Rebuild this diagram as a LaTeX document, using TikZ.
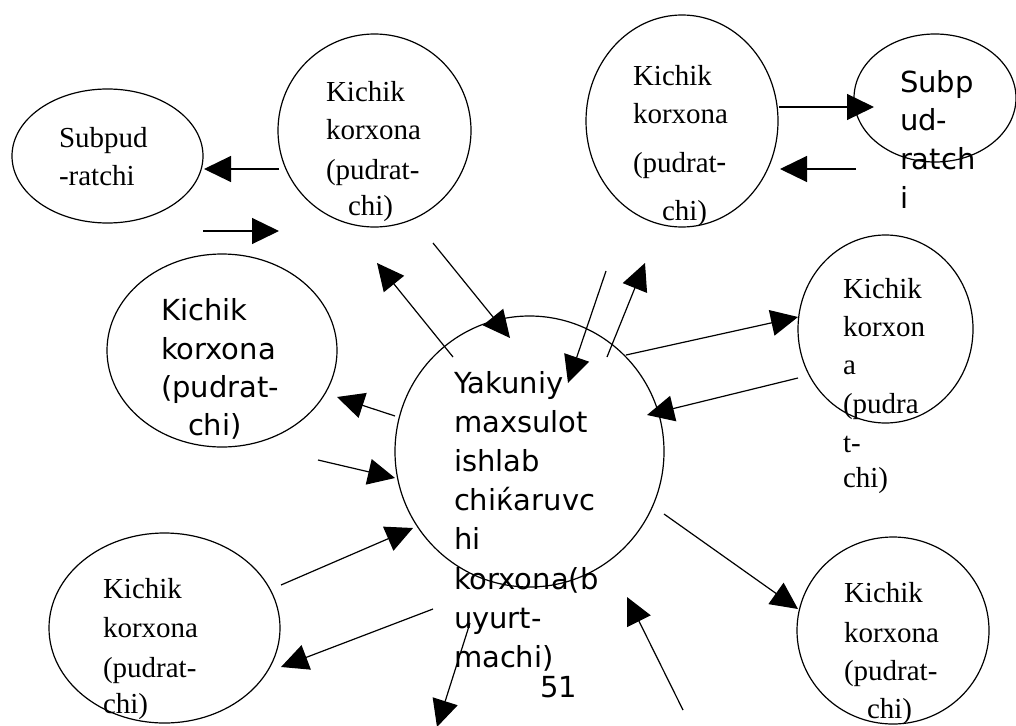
\documentclass[tikz,border=0pt]{standalone}
\usepackage{fontspec}
\setmainfont{Liberation Serif}
\newfontfamily\djsans{DejaVu Sans}
\usetikzlibrary{arrows.meta,shapes.geometric}
\tikzset{
  oval/.style={draw, line width=1.2pt, ellipse, inner sep=0pt, outer sep=0pt},
  ser/.style={anchor=base west, inner sep=0pt, outer sep=0pt, font=\fontsize{29}{35}\selectfont},
  san/.style={anchor=base west, inner sep=0pt, outer sep=0pt, font=\djsans\fontsize{29}{35}\selectfont},
  arr/.style={line width=1.2pt, -{Triangle[length=27pt,width=26pt]}},
}
\begin{document}
\begin{tikzpicture}[x=1pt,y=-1pt]
\clip (0,0) rectangle (1016,725);
\fill[white] (0,0) rectangle (1016,725);

% ellipses
\node[oval, minimum width=191pt, minimum height=134pt] (e1) at (107.5,156) {};
\node[oval, minimum width=193pt, minimum height=193pt] (e2) at (374.5,130.5) {};
\node[oval, minimum width=192pt, minimum height=212pt] (e3) at (682,121) {};
\node[oval, minimum width=162pt, minimum height=128pt] (e4) at (935,98) {};
\node[oval, minimum width=230pt, minimum height=193pt] (e5) at (222,350.5) {};
\node[oval, minimum width=269pt, minimum height=271pt] (e6) at (529.5,451.5) {};
\node[oval, minimum width=175pt, minimum height=188pt] (e7) at (885.5,329) {};
\node[oval, minimum width=231pt, minimum height=190pt] (e8) at (164.5,628) {};
\node[oval, minimum width=192pt, minimum height=187pt] (e9) at (893,630.5) {};

% texts: Subpud left
\node[ser] (t1a) at (59,147) {Subpud};
\node[ser] (t1b) at (59,185) {-ratchi};
% top center
\node[ser] (t2a) at (326,101) {Kichik};
\node[ser] (t2b) at (326,139) {korxona};
\node[ser] (t2c) at (326,179) {(pudrat-};
\node[ser] (t2d) at (348,215) {chi)};
% top right
\node[ser] (t3a) at (633,85) {Kichik};
\node[ser] (t3b) at (633,123) {korxona};
\node[ser] (t3c) at (633,172) {(pudrat{\djsans -}};
\node[ser] (t3d) at (662,220) {chi)};
% Subp right
\node[san] (t4a) at (900,92) {Subp};
\node[san] (t4b) at (900,130) {ud-};
\node[san] (t4c) at (900,169) {ratch};
\node[san] (t4d) at (900,208) {i};
% left middle
\node[san] (t5a) at (161,320) {Kichik};
\node[san] (t5b) at (161,359) {korxona};
\node[san] (t5c) at (161,397) {(pudrat-};
\node[san] (t5d) at (188,435) {chi)};
% center
\node[san] (t6a) at (454,393) {Yakuniy};
\node[san] (t6b) at (454,432.2) {maxsulot};
\node[san] (t6c) at (454,471.4) {ishlab};
\node[san] (t6d) at (454,510.6) {chiќaruvc};
\node[san] (t6e) at (454,549.8) {hi};
\node[san] (t6f) at (454,589) {korxona(b};
\node[san] (t6g) at (454,628.2) {uyurt-};
\node[san] (t6h) at (454,667.4) {machi)};
\node[san] (t51) at (540,697) {51};
% right middle
\node[ser] (t7a) at (843,298) {Kichik};
\node[ser] (t7b) at (843,336) {korxon};
\node[ser] (t7c) at (843,374) {a};
\node[ser] (t7d) at (843,413) {(pudra};
\node[ser] (t7e) at (843,452) {t-};
\node[ser] (t7f) at (843,487) {chi)};
% bottom left
\node[ser] (t8a) at (103,598) {Kichik};
\node[ser] (t8b) at (103,637) {korxona};
\node[ser] (t8c) at (103,677) {(pudrat-};
\node[ser] (t8d) at (103,713) {chi)};
% bottom right
\node[ser] (t9a) at (844,602) {Kichik};
\node[ser] (t9b) at (844,642) {korxona};
\node[ser] (t9c) at (844,680) {(pudrat-};
\node[ser] (t9d) at (867,718) {chi)};

% arrow end points
\coordinate (a1s) at (279,169);  \coordinate (a1e) at (204,169);
\coordinate (a2s) at (203,231);  \coordinate (a2e) at (279,231);
\coordinate (a3s) at (433,243);  \coordinate (a3e) at (510,338);
\coordinate (a4s) at (453,357);  \coordinate (a4e) at (377,263);
\coordinate (a5s) at (606,271);  \coordinate (a5e) at (568,383);
\coordinate (a6s) at (607,357);  \coordinate (a6e) at (645,263);
\coordinate (a7s) at (626,355);  \coordinate (a7e) at (798,317);
\coordinate (a8s) at (798,378);  \coordinate (a8e) at (647,415);
\coordinate (a9s) at (664,514);  \coordinate (a9e) at (798,609);
\coordinate (a10s) at (683,710); \coordinate (a10e) at (627,597);
\coordinate (a11s) at (470,623); \coordinate (a11e) at (437,727);
\coordinate (a12s) at (433,609); \coordinate (a12e) at (281,667);
\coordinate (a13s) at (281,585); \coordinate (a13e) at (413,528);
\coordinate (a14s) at (318,460); \coordinate (a14e) at (395,478);
\coordinate (a15s) at (395,416); \coordinate (a15e) at (337,397);
\coordinate (a16s) at (779,107); \coordinate (a16e) at (874,107);
\coordinate (a17s) at (856,169); \coordinate (a17e) at (780,169);

\foreach \k in {1,...,17} {\draw[arr] (a\k s) -- (a\k e);}
\end{tikzpicture}
\end{document}
